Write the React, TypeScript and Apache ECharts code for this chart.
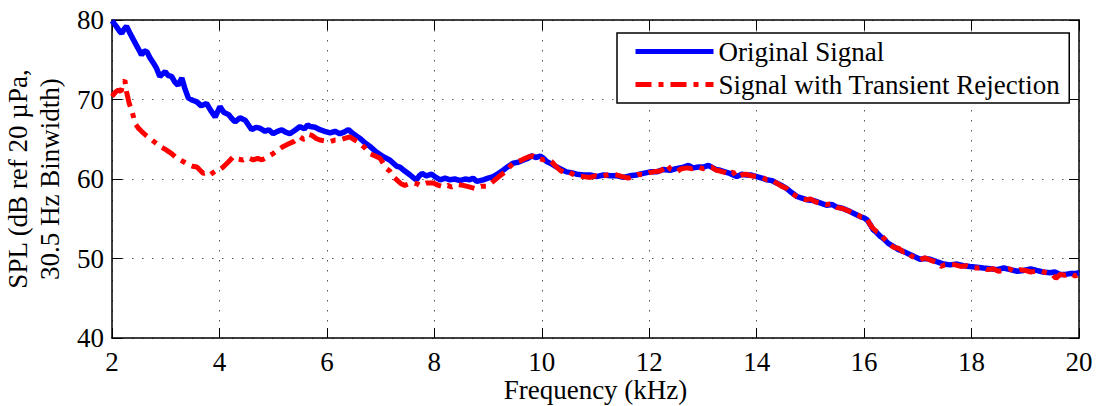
import React, { useEffect, useRef } from "react";
import * as echarts from "echarts";

const xTicks = [2, 4, 6, 8, 10, 12, 14, 16, 18, 20];
const yTicks = [40, 50, 60, 70, 80];

const seriesNames = ["Original Signal", "Signal with Transient Rejection"];

// Original signal (kHz, dB)
const blueFreq = [
  2.0, 2.08, 2.14, 2.18, 2.23, 2.27, 2.33, 2.4, 2.48, 2.55, 2.6, 2.65, 2.71, 2.77, 2.83, 2.89, 2.94, 2.99, 3.05, 3.11,
  3.17, 3.23, 3.3, 3.36, 3.42, 3.5, 3.58, 3.66, 3.76, 3.84, 3.92, 4.01, 4.08, 4.17, 4.23, 4.29, 4.38, 4.48, 4.55, 4.6,
  4.68, 4.75, 4.85, 4.92, 5.0, 5.08, 5.16, 5.23, 5.31, 5.4, 5.5, 5.58, 5.64, 5.69, 5.78, 5.87, 5.96, 6.06, 6.15, 6.24,
  6.32, 6.4, 6.47, 6.55, 6.62, 6.7, 6.8, 6.92, 7.05, 7.17, 7.3, 7.36, 7.45, 7.55, 7.62, 7.67, 7.72, 7.77, 7.85, 7.95,
  8.03, 8.11, 8.2, 8.29, 8.38, 8.48, 8.57, 8.66, 8.72, 8.79, 8.91, 9.0, 9.1, 9.19, 9.28, 9.38, 9.47, 9.56, 9.66, 9.74,
  9.81, 9.9, 9.97, 10.03, 10.09, 10.18, 10.28, 10.37, 10.46, 10.55, 10.65, 10.78, 10.9, 11.02, 11.15, 11.28, 11.4, 11.52,
  11.64, 11.76, 11.89, 12.02, 12.14, 12.26, 12.39, 12.5, 12.64, 12.73, 12.82, 12.92, 13.01, 13.1, 13.16, 13.24, 13.32,
  13.41, 13.5, 13.63, 13.72, 13.81, 13.9, 14.0, 14.1, 14.19, 14.28, 14.37, 14.46, 14.56, 14.65, 14.75, 14.84, 14.93,
  15.05, 15.18, 15.3, 15.4, 15.48, 15.55, 15.64, 15.74, 15.83, 15.92, 16.0, 16.05, 16.12, 16.17, 16.23, 16.3, 16.36,
  16.45, 16.55, 16.64, 16.73, 16.85, 16.92, 17.04, 17.13, 17.23, 17.35, 17.48, 17.6, 17.73, 17.85, 17.97, 18.1, 18.22,
  18.35, 18.47, 18.6, 18.72, 18.85, 18.97, 19.1, 19.21, 19.33, 19.46, 19.55, 19.65, 19.75, 19.83, 19.92, 20.0,
];
const blueSPL = [
  79.9, 79.2, 78.6, 78.3, 78.9, 79.2, 78.4, 77.5, 76.5, 75.6, 76.1, 76.0, 75.2, 74.6, 73.9, 72.9, 73.2, 73.5, 73.0, 72.9,
  72.2, 71.8, 72.7, 71.3, 70.2, 69.9, 69.7, 69.2, 69.5, 68.6, 67.8, 69.1, 68.4, 68.1, 67.6, 67.2, 67.7, 67.4, 66.7, 66.2,
  66.5, 66.4, 66.0, 66.2, 65.7, 66.0, 66.2, 65.9, 65.7, 66.1, 66.6, 66.3, 66.8, 66.6, 66.5, 66.2, 66.0, 65.8, 66.0, 65.7,
  65.9, 66.2, 65.8, 65.4, 65.1, 64.6, 64.1, 63.4, 62.8, 62.4, 61.6, 61.5, 61.0, 60.5, 60.1, 59.9, 60.4, 60.7, 60.4, 60.6,
  60.2, 59.9, 60.1, 59.9, 60.0, 59.8, 60.0, 59.9, 60.1, 59.7, 59.9, 60.1, 60.3, 60.7, 61.1, 61.6, 62.0, 62.1, 62.4, 62.6,
  62.9, 62.7, 62.9, 62.6, 62.2, 61.9, 61.5, 61.2, 60.9, 60.8, 60.6, 60.5, 60.5, 60.3, 60.5, 60.4, 60.4, 60.2,
  60.4, 60.5, 60.7, 60.9, 60.9, 61.2, 61.1, 61.3, 61.5, 61.7, 61.4, 61.5, 61.5, 61.7, 61.5, 61.2, 61.1,
  60.9, 60.7, 60.3, 60.6, 60.5, 60.5, 60.3, 60.1, 59.9, 59.8, 59.5, 59.2, 58.8, 58.3, 57.8, 57.6, 57.4,
  57.3, 57.0, 56.7, 56.8, 56.5, 56.4, 56.2, 55.9, 55.6, 55.3, 55.1, 54.9, 54.2, 53.6, 53.3, 52.8, 52.5,
  51.9, 51.5, 51.1, 50.9, 50.5, 50.3, 49.9, 50.0, 49.9, 49.6, 49.3, 49.2, 49.3, 49.1, 49.0, 48.9, 48.8,
  48.7, 48.6, 48.8, 48.6, 48.4, 48.5, 48.7, 48.5, 48.3, 48.2, 48.3, 48.0, 48.0, 48.1, 48.1, 48.2,
];

// Signal with transient rejection (kHz, dB)
const redFreq = [
  2.0, 2.06, 2.12, 2.17, 2.21, 2.24, 2.27, 2.32, 2.37, 2.43, 2.49, 2.55, 2.63, 2.71, 2.8, 2.89, 3.0, 3.11, 3.19, 3.27,
  3.35, 3.42, 3.5, 3.58, 3.64, 3.7, 3.76, 3.82, 3.88, 3.95, 4.01, 4.07, 4.16, 4.26, 4.35, 4.44, 4.53, 4.63, 4.71, 4.79,
  4.9, 5.0, 5.1, 5.19, 5.28, 5.38, 5.44, 5.5, 5.56, 5.62, 5.67, 5.72, 5.8, 5.87, 5.96, 6.06, 6.15, 6.24, 6.33, 6.43,
  6.52, 6.62, 6.71, 6.8, 6.9, 6.99, 7.11, 7.17, 7.22, 7.3, 7.38, 7.45, 7.53, 7.61, 7.68, 7.73, 7.85, 7.98, 8.08, 8.17,
  8.25, 8.32, 8.43, 8.54, 8.65, 8.76, 8.87, 8.98, 9.06, 9.13, 9.22, 9.32, 9.41, 9.5, 9.6, 9.69, 9.76, 9.84, 9.93, 10.03,
  10.1, 10.18, 10.26, 10.34, 10.42, 10.5, 10.58, 10.65, 10.78, 10.9, 11.0, 11.1, 11.21, 11.3, 11.4, 11.5, 11.61, 11.72,
  11.8, 11.89, 12.0, 12.08, 12.2, 12.28, 12.33, 12.4, 12.51, 12.6, 12.7, 12.8, 12.9, 13.0, 13.1, 13.16, 13.25, 13.32,
  13.42, 13.5, 13.56, 13.63, 13.72, 13.8, 13.9, 14.0, 14.1, 14.19, 14.28, 14.37, 14.46, 14.56, 14.65, 14.75, 14.84,
  14.93, 15.0, 15.1, 15.18, 15.3, 15.4, 15.5, 15.6, 15.7, 15.8, 15.88, 15.95, 16.05, 16.1, 16.15, 16.23, 16.3, 16.36,
  16.45, 16.55, 16.64, 16.73, 16.8, 16.88, 16.95, 17.04, 17.13, 17.23, 17.35, 17.43, 17.5, 17.6, 17.7, 17.8, 17.9, 18.0,
  18.1, 18.2, 18.3, 18.4, 18.5, 18.6, 18.7, 18.8, 18.9, 19.0, 19.1, 19.2, 19.3, 19.4, 19.5, 19.57, 19.65, 19.75, 19.85,
  19.93, 20.0,
];
const redSPL = [
  70.4, 70.9, 71.2, 71.0, 72.2, 72.4, 71.0, 69.5, 68.6, 67.0, 66.4, 66.0, 65.5, 65.1, 64.6, 64.1, 63.7, 63.2, 62.7, 62.4,
  62.1, 61.8, 61.6, 61.5, 61.1, 60.7, 60.8, 60.5, 60.8, 61.1, 61.2, 61.5, 62.1, 62.8, 62.5, 62.4, 62.7, 62.4, 62.6, 62.4,
  62.8, 63.2, 63.7, 64.1, 64.4, 64.7, 65.0, 65.3, 65.0, 65.1, 65.6, 65.5, 65.1, 64.9, 64.8, 64.7, 64.9, 64.9, 65.1, 65.3,
  64.9, 64.5, 63.9, 63.2, 62.9, 62.6, 61.3, 61.0, 60.4, 59.9, 59.4, 59.2, 59.4, 59.5, 59.4, 59.2, 59.5, 59.5, 59.2, 59.0,
  59.2, 59.0, 59.3, 59.2, 59.0, 58.8, 59.1, 59.1, 59.5, 59.9, 60.4, 60.9, 61.6, 62.1, 62.3, 62.6, 62.8, 62.9, 62.6, 62.4,
  62.5, 62.2, 61.6, 61.1, 60.8, 60.9, 60.6, 60.4, 60.3, 60.2, 60.4, 60.3, 60.5, 60.6, 60.5, 60.3, 60.1, 60.4,
  60.6, 60.5, 60.8, 60.9, 61.0, 61.3, 61.8, 61.2, 60.9, 61.3, 61.4, 61.3, 61.5, 61.3, 61.4, 61.5, 61.1, 61.0,
  60.8, 60.6, 60.9, 60.2, 60.5, 60.6, 60.4, 60.3, 60.2, 59.9, 59.9, 59.5, 59.1, 58.8, 58.2, 57.8, 57.5,
  57.4, 57.5, 57.1, 57.0, 56.8, 56.9, 56.4, 56.3, 56.0, 55.7, 55.5, 55.2, 55.1, 54.4, 53.9, 53.4, 53.2, 52.6,
  52.0, 51.4, 51.3, 50.8, 50.9, 50.3, 50.1, 49.8, 50.1, 49.8, 49.5, 49.0, 49.2, 49.3, 49.2, 49.0, 49.1, 48.9,
  48.8, 48.9, 48.6, 48.7, 48.4, 48.5, 48.7, 48.4, 48.6, 48.5, 48.3, 48.4, 48.4, 48.2, 48.0, 47.5, 48.0, 47.9, 48.1,
  47.8, 48.0,
];

const FONT = "'Liberation Serif', 'Times New Roman', serif";

export default function App() {
  const ref = useRef<HTMLDivElement>(null);

  useEffect(() => {
    if (!ref.current) return;
    const chart = echarts.init(ref.current, undefined, { renderer: "svg" });

    const blueData = blueFreq.map((f, i) => [f, blueSPL[i]]);
    const redData = redFreq.map((f, i) => [f, redSPL[i]]);

    const dotted = { show: true, lineStyle: { color: "#555", width: 1, type: [1.5, 8.5] } };
    const axisLine = { show: true, lineStyle: { color: "#000", width: 1.5 } };
    const tick = { show: true, inside: true, length: 10, lineStyle: { color: "#000", width: 1 } };
    const labelStyle = { fontSize: 27, color: "#000", fontFamily: FONT };

    const xMin = xTicks[0];
    const xMax = xTicks[xTicks.length - 1];
    const yMin = yTicks[0];
    const yMax = yTicks[yTicks.length - 1];

    chart.setOption({
      animation: false,
      backgroundColor: "#fff",
      textStyle: { fontFamily: FONT },
      grid: {
        left: 112,
        top: 20,
        right: 20,
        bottom: 68,
        containLabel: false,
        outerBoundsMode: "none",
      },
      legend: {
        orient: "vertical",
        left: 617,
        top: 33,
        padding: [5, 9, 5, 16],
        itemWidth: 78,
        itemHeight: 27,
        itemGap: 6,
        borderColor: "#000",
        borderWidth: 1.5,
        backgroundColor: "#fff",
        textStyle: { fontSize: 27, color: "#000", fontFamily: FONT },
        lineStyle: { width: 5 },
        itemStyle: { opacity: 0 },
        data: seriesNames,
      },
      xAxis: [
        {
          type: "value",
          min: xMin,
          max: xMax,
          interval: 2,
          position: "bottom",
          name: "Frequency (kHz)",
          nameLocation: "middle",
          nameGap: 38,
          nameMoveOverlap: false,
          nameTextStyle: { ...labelStyle, lineHeight: 27 },
          axisLine,
          axisTick: tick,
          axisLabel: { ...labelStyle, lineHeight: 27, margin: 10 },
          splitLine: dotted,
        },
        {
          type: "value",
          min: xMin,
          max: xMax,
          interval: 2,
          position: "top",
          axisLine,
          axisTick: tick,
          axisLabel: { show: false },
          splitLine: { show: false },
        },
      ],
      yAxis: [
        {
          type: "value",
          min: yMin,
          max: yMax,
          interval: 10,
          position: "left",
          name: "SPL (dB ref 20 µPa,\n30.5 Hz Binwidth)",
          nameLocation: "middle",
          nameRotate: 90,
          nameGap: 46,
          nameTextStyle: { ...labelStyle, lineHeight: 32 },
          axisLine,
          axisTick: tick,
          axisLabel: { ...labelStyle, margin: 8 },
          splitLine: dotted,
        },
        {
          type: "value",
          min: yMin,
          max: yMax,
          interval: 10,
          position: "right",
          axisLine,
          axisTick: tick,
          axisLabel: { show: false },
          splitLine: { show: false },
        },
      ],
      series: [
        {
          name: seriesNames[0],
          type: "line",
          xAxisIndex: 0,
          yAxisIndex: 0,
          data: blueData,
          symbol: "none",
          showSymbol: false,
          lineStyle: { color: "#0000ff", width: 5.5 },
          itemStyle: { color: "#0000ff" },
        },
        {
          name: seriesNames[1],
          type: "line",
          xAxisIndex: 0,
          yAxisIndex: 0,
          data: redData,
          symbol: "none",
          showSymbol: false,
          lineStyle: { color: "#ff0000", width: 5, type: [16, 7, 5, 7] },
          itemStyle: { color: "#ff0000" },
        },
      ],
    });

    return () => chart.dispose();
  }, []);

  return (
    <div
      ref={ref}
      style={{ position: "fixed", left: 0, top: 0, width: 1099, height: 406, background: "#fff" }}
    />
  );
}
